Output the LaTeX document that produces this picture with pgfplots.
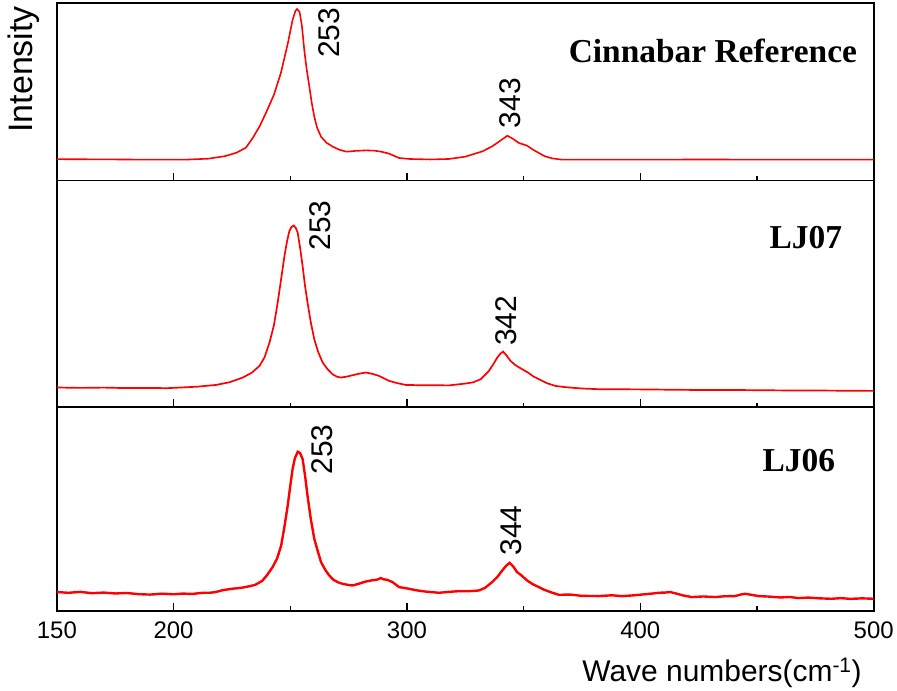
\documentclass[border=0pt]{standalone}
\usepackage{pgfplots}
\pgfplotsset{compat=1.18}
\usepackage{fontspec}
\setmainfont{Liberation Sans}
\newfontfamily\serifbf{Liberation Serif}
\definecolor{specred}{RGB}{255,0,0}

\pgfplotstableread{
x v
150 21.5
170 21.3
190 21
205 21
215 22
222 24.5
227 28
231 33
234 43
237 55
240 70
243 86
246 108
249 138
251 161
252.2 170
252.9 172
254 169
255 155
256 131
257 112
258.2 94
259.2 78
260.3 64
261.5 53
263.2 44
265.5 38
268.2 34
271 31
274 29
278 29.8
282.4 30.3
286 30
289 29
292.4 27
296.6 22.7
301 21.7
310 21.2
318 21.7
325 24
332.3 29.3
336.5 34.3
340 40
343 45
345 42.5
348 37.7
351.5 35
354 31
356.5 27.7
359 24.5
362.2 22.3
366.5 21
380 21
400 21
430 21.2
450 21
480 21
500 21
}\cinnabar

\pgfplotstableread{
x v
150 19.7
160 19.3
170 19.6
180 19.1
190 19.3
197 19
204 19.8
210 20.5
218.3 22.3
224 25
229.7 29.7
233.5 34.5
236.8 41.3
239 50
241.1 64.7
243 82
244.6 104.7
246 127
247.5 151.3
248.6 166
249.6 176.3
250.5 180.5
251.5 182
252.4 179.5
253.2 174.7
254.2 160
255.3 141.3
256.3 122
257.4 104.7
258.8 85
260.3 68
262 55
263.9 44.7
266 38
268.1 33
270 30.5
271.7 29.7
274 30.5
276.7 32
279.5 33.5
282.4 34.7
285 33.5
288.1 31.3
290 29
292.4 26.3
296 24
299.5 22.3
305 22
310.9 22
318 21.8
325.2 23.7
328.5 25
331.6 28
335.1 36.3
337 43
338.7 49.7
340 53.5
341.2 55.7
342.6 52
344.4 46.3
346.5 42
349.4 38
352 34.5
354 31
356.5 28
360 24
363.6 21.3
368 20
375 18.7
382.2 18
400 17.8
420 17.3
440 17.2
460 16.8
480 16.6
500 16.3
}\ljseven

\pgfplotstableread{
x v
150 18.7
155 18
160 18.9
165 17.6
170 18.2
175 17.3
180 17.8
185 16.6
190 16.2
195 17.1
200 16.5
204 17.2
208 16.8
212 17.9
216 18.1
218 18.7
221 20.6
225 22
229 23
232.5 24.5
235 26
238 30
240 35.5
242.5 44
244.3 52
246.1 65.3
247.5 84
248.9 105.3
250 125
251 142
252 153
253.2 159.3
254.2 158
255.3 152
256.3 136
257.4 115.3
258.8 92
260.3 72
262 58
263.2 48.7
265 41
266.7 35.3
268.5 31
270.5 28.5
272.4 27
274.5 26
276.7 25.3
279 26.8
282.4 29.3
285 30.5
287 31
288.8 32.7
290 31.5
291.5 31
293.8 28.7
296.6 23.7
298.5 23
300.9 22
304 20.5
308 19.2
313.7 18
318 18.9
322 19.6
326 19.5
330.8 20.3
333.5 23
336.5 28.7
338.8 34
340.8 40.3
342.5 45
344 48
345.5 44.5
347.2 38.7
349 35.5
351.5 30.3
354 26.5
356.5 23.7
359 20.8
362 18.3
365 16
370 16.2
375 14.9
382.2 14.7
388 15.5
392 14.6
396.4 15.3
401 16.3
405 17.2
407.8 18
410.5 18.2
412.8 18.7
415 17.5
418 15.5
422 13.7
427 14.3
432 13.7
436 14.5
440.6 14.7
443 16.2
444.8 17
447 16.2
450.6 14.7
455 14.2
460 13.3
464 13.8
467.7 12.7
472 13.2
477 12.4
481.9 12
486 12.6
490 11.9
495 12.4
500 12
}\ljsix

\pgfplotsset{
  panel/.style={
    scale only axis,
    width=818.5pt,
    xmin=150, xmax=500,
    ymin=0,
    ytick=\empty,
    xtick={150,200,300,400,500},
    minor xtick={250,350,450},
    xtick pos=bottom,
    tick align=inside,
    major tick length=8pt,
    minor tick length=4.5pt,
    every tick/.style={black, line width=1.5pt},
    axis line style={line width=1.6pt},
    clip=true,
  },
}
\tikzset{
  peak/.style={rotate=90, inner sep=0pt, font=\fontsize{30}{34}\selectfont},
  ttl/.style={anchor=base east, inner sep=0pt, font=\fontsize{33.5}{38}\selectfont\serifbf\bfseries},
}

\begin{document}
\begin{tikzpicture}[x=1pt,y=1pt]
\path (0,0) rectangle (897,-692);

\begin{axis}[panel, height=178pt, ymax=178, at={(57pt,-181pt)}, anchor=south west,
  xticklabels=\empty]
\addplot[specred, line width=1.6pt] table[x=x,y=v] {\cinnabar};
\node[peak] at (axis cs:266.7,148) {253};
\node[peak] at (axis cs:344.3,77.5) {343};
\node[ttl] at (axis cs:492.9,118) {Cinnabar Reference};
\end{axis}

\begin{axis}[panel, height=227pt, ymax=227, at={(57pt,-408pt)}, anchor=south west,
  xticklabels=\empty]
\addplot[specred, line width=1.7pt] table[x=x,y=v] {\ljseven};
\node[peak] at (axis cs:262.9,182) {253};
\node[peak] at (axis cs:342.4,86.5) {342};
\node[ttl] at (axis cs:486.5,159) {LJ07};
\end{axis}

\begin{axis}[panel, height=204pt, ymax=204, at={(57pt,-612pt)}, anchor=south west,
  /pgf/number format/assume math mode=true,
  xticklabel style={font=\fontsize{24}{28}\selectfont, yshift=-8pt},
  xticklabels={150,200,300,400,500}]
\addplot[specred, line width=2.4pt] table[x=x,y=v] {\ljsix};
\node[peak] at (axis cs:263.5,161.5) {253};
\node[peak] at (axis cs:344.5,80.5) {344};
\node[ttl] at (axis cs:483.5,140) {LJ06};
\end{axis}

\node[rotate=90, anchor=base west, inner sep=0pt, font=\fontsize{34}{38}\selectfont] at (33,-133) {Intensity};
\node[anchor=base, inner sep=0pt, font=\fontsize{30}{36}\selectfont] at (723.5,-683) {Wave numbers(cm\textsuperscript{-1})};
\end{tikzpicture}
\end{document}
